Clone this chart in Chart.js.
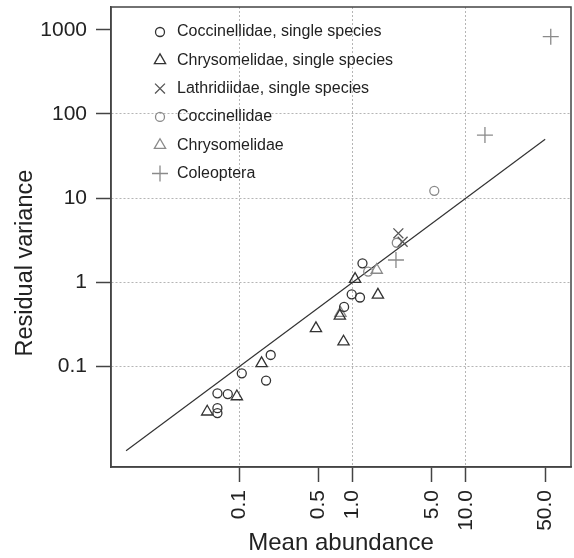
<!DOCTYPE html>
<html>
<head>
<meta charset="utf-8">
<script src="https://cdn.jsdelivr.net/npm/chart.js@4.4.1/dist/chart.umd.min.js"></script>
<style>
  body { margin: 0; background: #fff; }
</style>
</head>
<body>
<canvas id="myChart" width="574" height="558"></canvas>
<script>
// values (mean abundance, residual variance)
const coccSingleX = [0.064, 0.079, 0.064, 0.064, 0.105, 0.189, 0.172, 0.84, 0.98, 1.16, 1.22];
const coccSingleY = [0.048, 0.047, 0.032, 0.028, 0.083, 0.137, 0.068, 0.51, 0.72, 0.66, 1.68];
const chrysSingleX = [0.052, 0.095, 0.157, 0.474, 0.77, 0.83, 1.05, 1.67];
const chrysSingleY = [0.029, 0.044, 0.109, 0.284, 0.40, 0.197, 1.09, 0.71];
const lathSingleX = [2.53, 2.76];
const lathSingleY = [3.82, 3.03];
const coccX = [1.37, 2.45, 5.25];
const coccY = [1.34, 2.95, 12.2];
const chrysX = [0.78, 1.63];
const chrysY = [0.43, 1.40];
const coleoX = [2.41, 14.7, 56];
const coleoY = [1.84, 56, 826];
const fitX = [0.01, 50];
const fitY = [0.01, 50];

const xTicks = [0.1, 0.5, 1, 5, 10, 50];
const xTickLabels = ['0.1', '0.5', '1.0', '5.0', '10.0', '50.0'];
const yTicks = [0.1, 1, 10, 100, 1000];
const yTickLabels = ['0.1', '1', '10', '100', '1000'];
const xGridAt = [0.1, 1, 10];
const yGridAt = [0.1, 1, 10, 100];

const BLACK = '#333';
const GREY = '#8a8a8a';
const FONT = "'Liberation Sans', Arial, sans-serif";

const pts = (xs, ys) => xs.map((x, i) => ({ x: x, y: ys[i] }));

function series(label, xs, ys, style, color, radius) {
    return {
        type: 'scatter',
        label: label,
        data: pts(xs, ys),
        pointStyle: style,
        pointRadius: radius,
        pointHoverRadius: radius,
        pointBorderWidth: 1.3,
        borderColor: color,
        backgroundColor: 'rgba(0,0,0,0)',
        inLegend: true
    };
}

const datasets = [
    series('Coccinellidae, single species', coccSingleX, coccSingleY, 'circle', BLACK, 4.5),
    series('Chrysomelidae, single species', chrysSingleX, chrysSingleY, 'triangle', BLACK, 6.5),
    series('Lathridiidae, single species', lathSingleX, lathSingleY, 'crossRot', '#555', 7),
    series('Coccinellidae', coccX, coccY, 'circle', GREY, 4.5),
    series('Chrysomelidae', chrysX, chrysY, 'triangle', GREY, 6.5),
    series('Coleoptera', coleoX, coleoY, 'cross', GREY, 8),
    {
        type: 'line',
        label: 'fit',
        data: pts(fitX, fitY),
        borderColor: '#333',
        borderWidth: 1.2,
        pointRadius: 0,
        fill: false
    }
];

// box round the plot area
const frame = {
    id: 'frame',
    afterDraw(chart) {
        const { ctx, chartArea: { left, top, width, height } } = chart;
        ctx.save();
        ctx.strokeStyle = '#444';
        ctx.lineWidth = 1.5;
        ctx.strokeRect(left, top, width, height);
        ctx.restore();
    }
};

// legend drawn inside the plot, top left
const innerLegend = {
    id: 'innerLegend',
    afterDraw(chart) {
        const { ctx, chartArea: { left, top } } = chart;
        ctx.save();
        ctx.font = '16px ' + FONT;
        ctx.textBaseline = 'middle';
        ctx.textAlign = 'left';
        let y = top + 25;
        chart.data.datasets.forEach(ds => {
            if (!ds.inLegend) return;
            ctx.strokeStyle = ds.borderColor;
            ctx.fillStyle = 'rgba(0,0,0,0)';
            ctx.lineWidth = 1.3;
            Chart.helpers.drawPoint(ctx, {
                pointStyle: ds.pointStyle,
                radius: ds.pointRadius,
                borderWidth: 1.3,
                rotation: 0
            }, left + 49, y);
            ctx.fillStyle = '#222';
            ctx.fillText(ds.label, left + 66, y);
            y += 28.3;
        });
        ctx.restore();
    }
};

const config = {
    data: { datasets: datasets },
    options: {
        responsive: false,
        animation: false,
        devicePixelRatio: 1,
        layout: { autoPadding: false, padding: { top: 7, right: 3, left: 0, bottom: 0 } },
        plugins: {
            legend: { display: false },
            tooltip: { enabled: false }
        },
        scales: {
            x: {
                type: 'logarithmic',
                position: 'bottom',
                min: 0.00736,
                max: 84.5,
                afterBuildTicks: scale => { scale.ticks = xTicks.map(v => ({ value: v })); },
                afterFit: scale => {
                    scale.height = 91;
                    scale.paddingLeft = 0;
                    scale.paddingRight = 0;
                },
                ticks: {
                    autoSkip: false,
                    maxRotation: 90,
                    minRotation: 90,
                    padding: 8,
                    color: '#222',
                    font: { family: FONT, size: 21 },
                    callback: (v, i) => xTickLabels[i]
                },
                grid: {
                    color: c => (c.tick && xGridAt.includes(c.tick.value)) ? '#b5b5b5' : 'rgba(0,0,0,0)',
                    tickColor: '#444',
                    tickLength: 15,
                    tickWidth: 1.5,
                    lineWidth: 1
                },
                border: { display: true, color: '#444', width: 1.5, dash: [2, 2] },
                title: {
                    display: true,
                    text: 'Mean abundance',
                    color: '#222',
                    font: { family: FONT, size: 24 },
                    padding: { top: 0, bottom: 0 }
                }
            },
            y: {
                type: 'logarithmic',
                position: 'left',
                min: 0.0064,
                max: 1862,
                afterBuildTicks: scale => { scale.ticks = yTicks.map(v => ({ value: v })); },
                afterFit: scale => {
                    scale.width = 111;
                    scale.paddingTop = 0;
                    scale.paddingBottom = 0;
                },
                ticks: {
                    autoSkip: false,
                    padding: 9,
                    color: '#222',
                    font: { family: FONT, size: 21 },
                    callback: (v, i) => yTickLabels[i]
                },
                grid: {
                    color: c => (c.tick && yGridAt.includes(c.tick.value)) ? '#b5b5b5' : 'rgba(0,0,0,0)',
                    tickColor: '#444',
                    tickLength: 15,
                    tickWidth: 1.5,
                    lineWidth: 1
                },
                border: { display: true, color: '#444', width: 1.5, dash: [2, 2] },
                title: {
                    display: true,
                    // trailing spaces push the centred label a little lower, as in the original
                    text: 'Residual variance' + ' '.repeat(8),
                    color: '#222',
                    font: { family: FONT, size: 23.5 },
                    padding: { top: 11, bottom: 0 }
                }
            }
        }
    },
    plugins: [frame, innerLegend]
};

new Chart(document.getElementById('myChart'), config);
</script>
</body>
</html>
